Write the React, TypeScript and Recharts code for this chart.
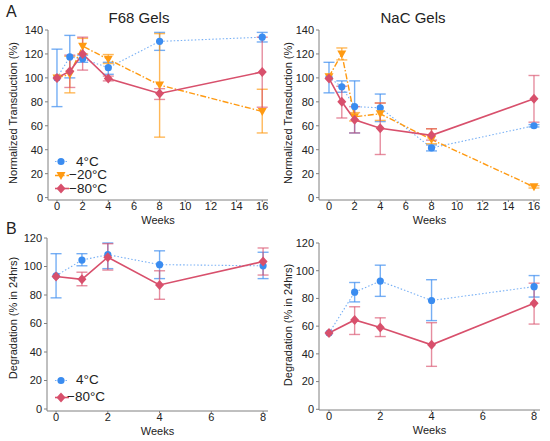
import React from "react";
import { LineChart, Line, XAxis, YAxis, ErrorBar } from "recharts";

// --- data ---
const weeksTop = [0, 1, 2, 4, 8, 16];
const weeksBottom = [0, 1, 2, 4, 8];

const topXTicks = [0, 2, 4, 6, 8, 10, 12, 14, 16];
const topYTicks = [0, 20, 40, 60, 80, 100, 120, 140];
const bottomXTicks = [0, 2, 4, 6, 8];
const bottomYTicks = [0, 20, 40, 60, 80, 100, 120];

// F68 gels, normalized transduction (%)
const f68Cold4 = [100, 117.5, 116, 108.5, 130.5, 134];
const f68Cold4Lo = [76, 100, 113, 103, 123, 130];
const f68Cold4Hi = [124, 135.5, 119, 113, 138, 138];
const f68Minus20 = [100, 103, 126.5, 115.5, 94, 72];
const f68Minus20Lo = [100, 87.5, 120, 112, 50.5, 54];
const f68Minus20Hi = [100, 118, 133, 119.5, 137, 90.5];
const f68Minus80 = [100, 105.5, 120, 99.5, 87, 105];
const f68Minus80Lo = [100, 92, 106.5, 97.5, 82, 75.5];
const f68Minus80Hi = [100, 119, 134, 101.5, 91, 134];

// NaC gels, normalized transduction (%)
const nacCold4 = [100.5, 92.5, 76, 75, 41.5, 60];
const nacCold4Lo = [87.5, 88, 54, 63.5, 39, 59];
const nacCold4Hi = [113, 97.5, 97.5, 86.5, 44, 61];
const nacMinus20 = [101, 120, 67.5, 70, 48.5, 9];
const nacMinus20Lo = [101, 115, 64, 64.5, 45, 8];
const nacMinus20Hi = [101, 125, 71, 79, 57.5, 10];
const nacMinus80 = [99.5, 80, 65, 58, 52, 82.5];
const nacMinus80Lo = [99.5, 66.5, 54, 36, 48, 63];
const nacMinus80Hi = [99.5, 93, 76, 79, 57.5, 102];

// degradation (% in 24hrs)
const degF68Cold4 = [93.5, 104.5, 108.3, 101.3, 100.5];
const degF68Cold4Lo = [78, 100.5, 98.5, 91.5, 91.5];
const degF68Cold4Hi = [109, 109, 116.5, 111, 110];
const degF68Minus80 = [93, 91, 106.5, 87, 103.5];
const degF68Minus80Lo = [93, 86.5, 97.5, 77, 94];
const degF68Minus80Hi = [93, 96, 116, 97, 113];

const degNacCold4 = [55, 84.5, 92.5, 78.5, 88.5];
const degNacCold4Lo = [55, 77.5, 81.5, 64, 81];
const degNacCold4Hi = [55, 91.5, 104, 93.5, 96.5];
const degNacMinus80 = [55, 64.5, 59, 46.5, 76.5];
const degNacMinus80Lo = [55, 54, 52.5, 31, 61.5];
const degNacMinus80Hi = [55, 74, 66, 62.5, 91];

const BLUE = "#3a8cf0";
const ORANGE = "#ff9a12";
const RED = "#d8506c";
const AXIS = "#808080";
const INK = "#222";
const FONT = "'Liberation Sans', Arial, sans-serif";

type Series = { key: string; vals: number[]; lo: number[]; hi: number[] };

const buildRows = (weeks: number[], series: Series[]) =>
  weeks.map((w, i) => {
    const row: any = { week: w };
    series.forEach((s) => {
      const v = s.vals[i];
      const d = [v - s.lo[i], s.hi[i] - v];
      row[s.key] = v;
      row[s.key + "Err"] = d[0] === 0 && d[1] === 0 ? null : d;
    });
    return row;
  });

const circleDot = (p: any) =>
  p.cx == null ? null : <circle key={`c-${p.index}`} cx={p.cx} cy={p.cy} r={3.6} fill={BLUE} />;

const triangleDot = (p: any) =>
  p.cx == null ? null : (
    <polygon
      key={`t-${p.index}`}
      points={`${p.cx - 4.5},${p.cy - 3.5} ${p.cx + 4.5},${p.cy - 3.5} ${p.cx},${p.cy + 4.5}`}
      fill={ORANGE}
    />
  );

const diamondDot = (p: any) =>
  p.cx == null ? null : (
    <polygon
      key={`d-${p.index}`}
      points={`${p.cx},${p.cy - 5} ${p.cx + 4.5},${p.cy} ${p.cx},${p.cy + 5} ${p.cx - 4.5},${p.cy}`}
      fill={RED}
    />
  );

const YLabel = ({ lx, ly, txt }: any) => (
  <text
    x={lx}
    y={ly}
    transform={`rotate(-90 ${lx} ${ly})`}
    textAnchor="middle"
    dominantBaseline="central"
    fontSize={11}
    fill={INK}
  >
    {txt}
  </text>
);

type PanelProps = {
  left: number;
  top: number;
  width: number;
  height: number;
  axisWidth: number;
  right: number;
  xDomain: number[];
  yDomain: number[];
  xTicks: number[];
  yTicks: number[];
  rows: any[];
  withMinus20: boolean;
  yLabel: string;
  lx: number;
  ly: number;
};

const Panel: React.FC<PanelProps> = (p) => (
  <div style={{ position: "absolute", left: p.left, top: p.top }}>
    <LineChart
      width={p.width}
      height={p.height}
      data={p.rows}
      margin={{ top: 30, right: p.right, left: 0, bottom: 0 }}
    >
      <XAxis
        dataKey="week"
        type="number"
        domain={p.xDomain}
        ticks={p.xTicks}
        allowDataOverflow
        height={28}
        stroke={AXIS}
        tickSize={2}
        tickMargin={0}
        tick={{ fill: INK, fontSize: 11 }}
        label={{ value: "Weeks", position: "insideBottom", offset: 4, fontSize: 11, fill: INK }}
      />
      <YAxis
        type="number"
        domain={p.yDomain}
        ticks={p.yTicks}
        allowDataOverflow
        width={p.axisWidth}
        stroke={AXIS}
        tickSize={3}
        tickMargin={2}
        tick={{ fill: INK, fontSize: 11 }}
        label={<YLabel lx={p.lx} ly={p.ly} txt={p.yLabel} />}
      />
      <Line
        dataKey="cold4"
        stroke="#78b0f5"
        strokeWidth={1.1}
        strokeDasharray="1.5 2"
        dot={circleDot}
        activeDot={false}
        isAnimationActive={false}
      >
        <ErrorBar dataKey="cold4Err" width={5.5} stroke={BLUE} strokeOpacity={0.7} strokeWidth={1.4} />
      </Line>
      {p.withMinus20 && (
        <Line
          dataKey="minus20"
          stroke={ORANGE}
          strokeWidth={1.4}
          strokeDasharray="6 2 1.5 2"
          dot={triangleDot}
          activeDot={false}
          isAnimationActive={false}
        >
          <ErrorBar dataKey="minus20Err" width={5.5} stroke={ORANGE} strokeOpacity={0.7} strokeWidth={1.4} />
        </Line>
      )}
      <Line
        dataKey="minus80"
        stroke={RED}
        strokeWidth={1.6}
        dot={diamondDot}
        activeDot={false}
        isAnimationActive={false}
      >
        <ErrorBar dataKey="minus80Err" width={5.5} stroke={RED} strokeOpacity={0.65} strokeWidth={1.4} />
      </Line>
    </LineChart>
  </div>
);

const LegendIcon = ({ kind }: { kind: string }) => (
  <svg width={14} height={11} style={{ display: "block" }}>
    {kind === "cold4" && (
      <>
        <line x1={0} y1={5.5} x2={14} y2={5.5} stroke="#78b0f5" strokeWidth={1} strokeDasharray="1.5 2" />
        <circle cx={6} cy={5.5} r={3.6} fill={BLUE} />
      </>
    )}
    {kind === "minus20" && (
      <>
        <line x1={0} y1={5.5} x2={14} y2={5.5} stroke={ORANGE} strokeWidth={1.4} strokeDasharray="6 2 1.5 2" />
        <polygon points="1.5,2 10.5,2 6,10" fill={ORANGE} />
      </>
    )}
    {kind === "minus80" && (
      <>
        <line x1={0} y1={5.5} x2={14} y2={5.5} stroke={RED} strokeWidth={1.6} />
        <polygon points="6,0.5 10.5,5.5 6,10.5 1.5,5.5" fill={RED} />
      </>
    )}
  </svg>
);

const LegendRow = ({ kind, text, x, y, pad }: any) => (
  <div
    style={{
      position: "absolute",
      left: x,
      top: y - 6,
      height: 12,
      lineHeight: "12px",
      display: "flex",
      alignItems: "center",
      fontSize: 13.5,
      color: INK,
      whiteSpace: "nowrap",
    }}
  >
    <LegendIcon kind={kind} />
    <span style={{ marginLeft: pad }}>{text}</span>
  </div>
);

const f68Rows = buildRows(weeksTop, [
  { key: "cold4", vals: f68Cold4, lo: f68Cold4Lo, hi: f68Cold4Hi },
  { key: "minus20", vals: f68Minus20, lo: f68Minus20Lo, hi: f68Minus20Hi },
  { key: "minus80", vals: f68Minus80, lo: f68Minus80Lo, hi: f68Minus80Hi },
]);
const nacRows = buildRows(weeksTop, [
  { key: "cold4", vals: nacCold4, lo: nacCold4Lo, hi: nacCold4Hi },
  { key: "minus20", vals: nacMinus20, lo: nacMinus20Lo, hi: nacMinus20Hi },
  { key: "minus80", vals: nacMinus80, lo: nacMinus80Lo, hi: nacMinus80Hi },
]);
const degF68Rows = buildRows(weeksBottom, [
  { key: "cold4", vals: degF68Cold4, lo: degF68Cold4Lo, hi: degF68Cold4Hi },
  { key: "minus80", vals: degF68Minus80, lo: degF68Minus80Lo, hi: degF68Minus80Hi },
]);
const degNacRows = buildRows(weeksBottom, [
  { key: "cold4", vals: degNacCold4, lo: degNacCold4Lo, hi: degNacCold4Hi },
  { key: "minus80", vals: degNacMinus80, lo: degNacMinus80Lo, hi: degNacMinus80Hi },
]);

export default function App() {
  return (
    <div
      style={{
        position: "absolute",
        left: 0,
        top: 0,
        width: 550,
        height: 441,
        background: "#fff",
        fontFamily: FONT,
        overflow: "hidden",
      }}
    >
      <Panel
        left={0}
        top={0}
        width={275}
        height={228}
        axisWidth={48}
        right={7}
        xDomain={[-0.7, 16.45]}
        yDomain={[-2, 140]}
        xTicks={topXTicks}
        yTicks={topYTicks}
        rows={f68Rows}
        withMinus20
        yLabel="Normalized Transduction (%)"
        lx={13}
        ly={113}
      />
      <Panel
        left={271}
        top={0}
        width={275}
        height={228}
        axisWidth={48}
        right={6}
        xDomain={[-0.78, 16.47]}
        yDomain={[-2, 140]}
        xTicks={topXTicks}
        yTicks={topYTicks}
        rows={nacRows}
        withMinus20
        yLabel="Normalized Transduction (%)"
        lx={17}
        ly={113}
      />
      <Panel
        left={0}
        top={208}
        width={275}
        height={231}
        axisWidth={47}
        right={7}
        xDomain={[-0.35, 8.19]}
        yDomain={[-1.4, 120]}
        xTicks={bottomXTicks}
        yTicks={bottomYTicks}
        rows={degF68Rows}
        withMinus20={false}
        yLabel="Degradation (% in 24hrs)"
        lx={13}
        ly={110}
      />
      <Panel
        left={271}
        top={213}
        width={275}
        height={225}
        axisWidth={48}
        right={6}
        xDomain={[-0.39, 8.23]}
        yDomain={[-0.5, 120]}
        xTicks={bottomXTicks}
        yTicks={bottomYTicks}
        rows={degNacRows}
        withMinus20={false}
        yLabel="Degradation (% in 24hrs)"
        lx={17}
        ly={112}
      />

      <div style={{ position: "absolute", left: 139, top: 17, transform: "translate(-50%, -50%)", fontSize: 15, color: INK, whiteSpace: "nowrap" }}>
        F68 Gels
      </div>
      <div style={{ position: "absolute", left: 413, top: 17, transform: "translate(-50%, -50%)", fontSize: 15, color: INK, whiteSpace: "nowrap" }}>
        NaC Gels
      </div>
      <div style={{ position: "absolute", left: 6, top: 3, fontSize: 16, color: INK }}>A</div>
      <div style={{ position: "absolute", left: 6, top: 220, fontSize: 16, color: INK }}>B</div>

      <LegendRow kind="cold4" text="4°C" x={55} y={161.5} pad={7} />
      <LegendRow kind="minus20" text="−20°C" x={55} y={175} pad={0} />
      <LegendRow kind="minus80" text="−80°C" x={55} y={188.5} pad={0} />

      <LegendRow kind="cold4" text="4°C" x={55} y={380} pad={7} />
      <LegendRow kind="minus80" text="−80°C" x={55} y={397} pad={-2} />
    </div>
  );
}
